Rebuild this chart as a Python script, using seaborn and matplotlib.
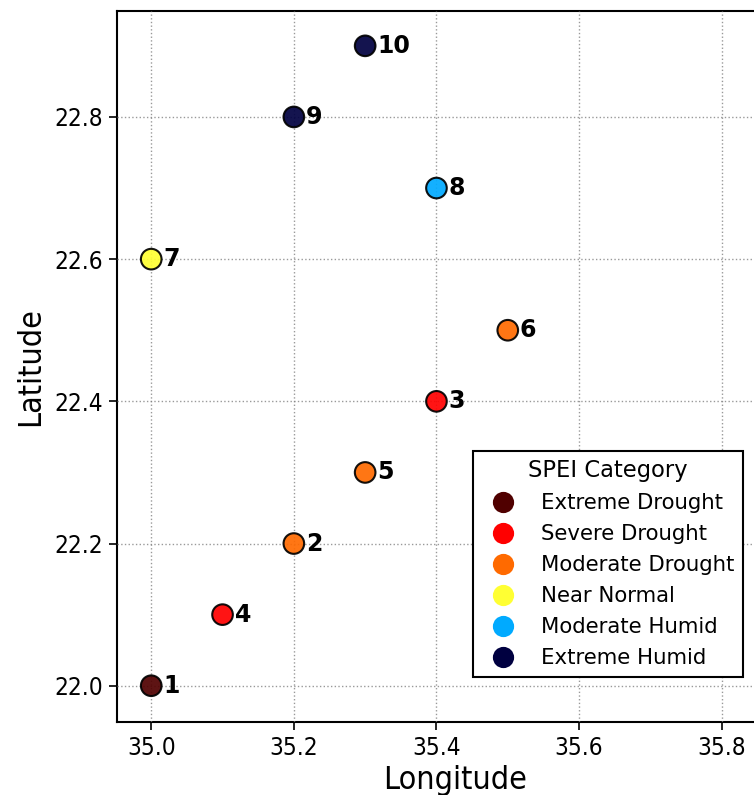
import matplotlib
matplotlib.use("Agg")
import matplotlib.pyplot as plt
import seaborn as sns
import pandas as pd

# Data
station_ids = [1, 2, 3, 4, 5, 6, 7, 8, 9, 10]
longitude = [35.0, 35.2, 35.4, 35.1, 35.3, 35.5, 35.0, 35.4, 35.2, 35.3]
latitude = [22.0, 22.2, 22.4, 22.1, 22.3, 22.5, 22.6, 22.7, 22.8, 22.9]
spei_category = ["Extreme Drought", "Moderate Drought", "Severe Drought", "Severe Drought",
                 "Moderate Drought", "Moderate Drought", "Near Normal", "Moderate Humid",
                 "Extreme Humid", "Extreme Humid"]
category_order = ["Extreme Drought", "Severe Drought", "Moderate Drought",
                  "Near Normal", "Moderate Humid", "Extreme Humid"]
category_colors = ["#500000", "#ff0000", "#ff6a00", "#ffff33", "#00aaff", "#000040"]
x_ticks = [35.0, 35.2, 35.4, 35.6, 35.8]
y_ticks = [22.0, 22.2, 22.4, 22.6, 22.8]

df = pd.DataFrame({"Longitude": longitude, "Latitude": latitude,
                   "SPEI Category": spei_category, "id": station_ids})

sns.set_style("white")
plt.rcParams['font.family'] = ['DejaVu Sans']
plt.rcParams['font.stretch'] = 'condensed'
plt.rcParams['text.color'] = 'black'
plt.rcParams['axes.labelcolor'] = 'black'
plt.rcParams['xtick.color'] = 'black'
plt.rcParams['ytick.color'] = 'black'

fig = plt.figure(figsize=(7.54, 7.95), dpi=100)
ax = fig.add_axes([117/754, 1-722/795, (793-117)/754, (722-11)/795])

palette = dict(zip(category_order, category_colors))
sns.scatterplot(data=df, x="Longitude", y="Latitude", hue="SPEI Category",
                hue_order=category_order, palette=palette, s=220,
                edgecolor="black", linewidth=1.5, alpha=0.92, ax=ax, zorder=3)

for _, r in df.iterrows():
    ax.text(r["Longitude"] + 0.017, r["Latitude"], str(r["id"]), fontsize=17,
            fontweight="bold", fontstretch="normal", va="center", ha="left", zorder=4)

ax.set_xlim(34.952, 35.9)
ax.set_ylim(21.949, 22.949)
ax.set_xticks(x_ticks)
ax.set_yticks(y_ticks)
ax.tick_params(axis="both", labelsize=17.5, length=6, width=1.2, direction="out",
               bottom=True, left=True, pad=4)
ax.set_xlabel("Longitude", fontsize=23, labelpad=4)
ax.set_ylabel("Latitude", fontsize=23, labelpad=6)
ax.grid(True, linestyle=":", color="gray", linewidth=1.0, alpha=0.8)
ax.set_axisbelow(False)
for sp in ax.spines.values():
    sp.set_color("black")
    sp.set_linewidth(1.5)

handles, labels = ax.get_legend_handles_labels()
leg = ax.legend(handles, labels, title="SPEI Category",
                prop={"size": 15.3, "stretch": "normal"},
                title_fontproperties={"size": 16.3, "stretch": "normal"},
                loc="lower left", bbox_to_anchor=(473/754, 1-677/795),
                bbox_transform=fig.transFigure, borderaxespad=0,
                frameon=True, fancybox=False, edgecolor="black", framealpha=1,
                markerscale=0.93, handletextpad=0.8, labelspacing=0.52, borderpad=0.4)
leg.get_frame().set_linewidth(1.5)
for h in leg.legend_handles:
    try:
        h.set_markeredgecolor(h.get_markerfacecolor())
        h.set_alpha(1)
    except Exception:
        try:
            h.set_edgecolor(h.get_facecolor())
            h.set_alpha(1)
        except Exception:
            pass

fig.savefig("out.png", dpi=100)
